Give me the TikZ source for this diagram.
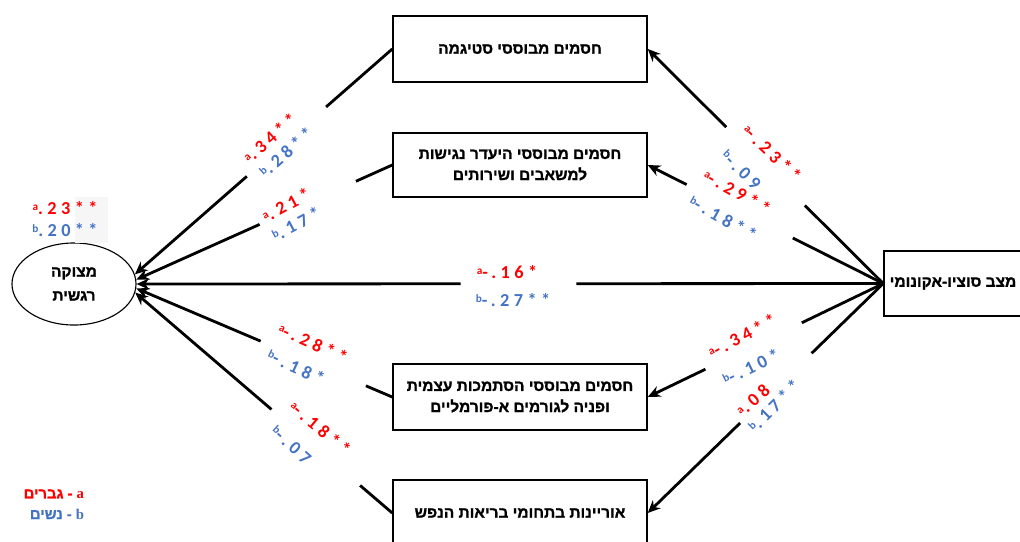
\documentclass[tikz,border=0pt]{standalone}
\usepackage{fontspec}
\usetikzlibrary{arrows.meta,calc,shapes.geometric}
\TeXXeTstate=1
\newfontfamily\heb[Script=Hebrew, BoldFeatures={FakeBold=1.3}]{Liberation Sans}
\newfontfamily\numf[LetterSpace=24]{Carlito}
\newfontfamily\lat{Liberation Serif}
\definecolor{cred}{HTML}{FF0000}
\definecolor{cblue}{HTML}{4472C4}
\newcommand\cf[2]{\raisebox{0.45ex}{\fontsize{8}{8}\selectfont #1}#2}
\begin{document}
\begin{tikzpicture}[x=0.025cm,y=-0.025cm,
  box/.style={draw, line width=1pt, minimum width=6.35cm, inner sep=2pt,
    font=\heb\bfseries\fontsize{11}{15}\selectfont, align=center},
  conn/.style={line width=2pt},
  arr/.style={line width=2pt, -{Stealth[length=9pt,width=8pt]}},
  lab/.style={font=\numf\bfseries\fontsize{13}{13}\selectfont, inner sep=0pt},
  ra/.style={lab, text=cred},
  bl/.style={lab, text=cblue}]
\useasboundingbox (0,0) rectangle (1020,541);
\clip (0,0) rectangle (1020,541);
% boxes
\node[box, minimum height=1.65cm] (stig) at (520,49) {\beginR חסמים מבוססי סטיגמה\endR};
\node[box, minimum height=1.6cm] (acc) at (520,165) {\beginR חסמים מבוססי היעדר נגישות\endR\\\beginR למשאבים ושירותים\endR};
\node[box, minimum height=1.65cm] (self) at (520,397) {\beginR חסמים מבוססי הסתמכות עצמית\endR\\\beginR ופניה לגורמים א-פורמליים\endR};
\node[box, minimum height=1.65cm] (lit) at (520,513) {\beginR אוריינות בתחומי בריאות הנפש\endR};
\node[box, minimum width=3.45cm, minimum height=1.625cm] (ses) at (953,283.5) {\beginR מצב סוציו-אקונומי\endR};
\node[draw, ellipse, line width=0.8pt, minimum width=3.1cm, minimum height=2.05cm, inner sep=0pt,
  font=\heb\bfseries\fontsize{11}{17}\selectfont, align=center] (emo) at (74,284) {\beginR מצוקה\endR\\\beginR רגשית\endR};
\coordinate (e1) at (emo.9);
\coordinate (e2) at (emo.4);
\coordinate (e3) at (emo.0);
\coordinate (e4) at (emo.-4);
\coordinate (e5) at (emo.-8);
% left connectors
\draw[conn] (stig.west) -- ($(stig.west)!0.257!(e1)$);
\draw[arr] ($(stig.west)!0.565!(e1)$) -- (e1);
\draw[conn] (acc.west) -- ($(acc.west)!0.142!(e2)$);
\draw[arr] ($(acc.west)!0.518!(e2)$) -- (e2);
\draw[conn] (ses.west) -- ($(ses.west)!0.411!(e3)$);
\draw[arr] ($(ses.west)!0.566!(e3)$) -- (e3);
\draw[conn] (self.west) -- ($(self.west)!0.103!(e4)$);
\draw[arr] ($(self.west)!0.514!(e4)$) -- (e4);
\draw[conn] (lit.west) -- ($(lit.west)!0.125!(e5)$);
\draw[arr] ($(lit.west)!0.47!(e5)$) -- (e5);
% right connectors
\draw[conn] (ses.west) -- ($(ses.west)!0.333!(stig.east)$);
\draw[arr] ($(ses.west)!0.667!(stig.east)$) -- (stig.east);
\draw[conn] (ses.west) -- ($(ses.west)!0.384!(acc.east)$);
\draw[arr] ($(ses.west)!0.835!(acc.east)$) -- (acc.east);
\draw[conn] (ses.west) -- ($(ses.west)!0.346!(self.east)$);
\draw[arr] ($(ses.west)!0.755!(self.east)$) -- (self.east);
\draw[conn] (ses.west) -- ($(ses.west)!0.304!(lit.east)$);
\draw[arr] ($(ses.west)!0.608!(lit.east)$) -- (lit.east);
% coefficient labels
\node[ra, rotate=42] (l1a) at (270,138) {\cf{a}{.34**}};
\node[bl, rotate=42] (l1b) at (286,152) {\cf{b}{.28**}};
\node[ra, rotate=28] (l2a) at (286,205) {\cf{a}{.21*}};
\node[bl, rotate=28] (l2b) at (296,224) {\cf{b}{.17*}};
\node[ra] (ma) at (507,272) {\cf{a}{-.16*}};
\node[bl] (mb) at (513,300) {\cf{b}{-.27**}};
\node[ra, rotate=-24] (l4a) at (313,343) {\cf{a}{-.28**}};
\node[bl, rotate=-25] (l4b) at (296,367) {\cf{b}{-.18*}};
\node[ra, rotate=-40] (l5a) at (320,428) {\cf{a}{-.18**}};
\node[bl, rotate=-42] (l5b) at (291,445) {\cf{b}{-.07}};
\node[ra, rotate=-44] (r1a) at (772,153) {\cf{a}{-.23**}};
\node[bl, rotate=-44] (r1b) at (741,170) {\cf{b}{-.09}};
\node[ra, rotate=-29] (r2a) at (737,192) {\cf{a}{-.29**}};
\node[bl, rotate=-29] (r2b) at (723,218) {\cf{b}{-.18**}};
\node[ra, rotate=28] (r4a) at (742,336) {\cf{a}{-.34**}};
\node[bl, rotate=26] (r4b) at (751,367) {\cf{b}{-.10*}};
\node[ra, rotate=42] (r5a) at (753,400) {\cf{a}{.08}};
\node[bl, rotate=45] (r5b) at (774,406) {\cf{b}{.17**}};
% labels above ellipse
\fill[gray!7] (75,197) rectangle (108,243);
\node[ra] (ea) at (65,208) {\cf{a}{.23**}};
\node[bl] (eb) at (65,230) {\cf{b}{.20**}};
% legend
\node[anchor=east, text=cred, font=\heb\bfseries\fontsize{10.5}{10.5}\selectfont] (lg1) at (89,494) {\beginR גברים\endR\ - {\lat\bfseries a}};
\node[anchor=east, text=cblue, font=\heb\bfseries\fontsize{10.5}{10.5}\selectfont] (lg2) at (89,514) {\beginR נשים\endR\ - {\lat\bfseries b}};
\end{tikzpicture}
\end{document}
